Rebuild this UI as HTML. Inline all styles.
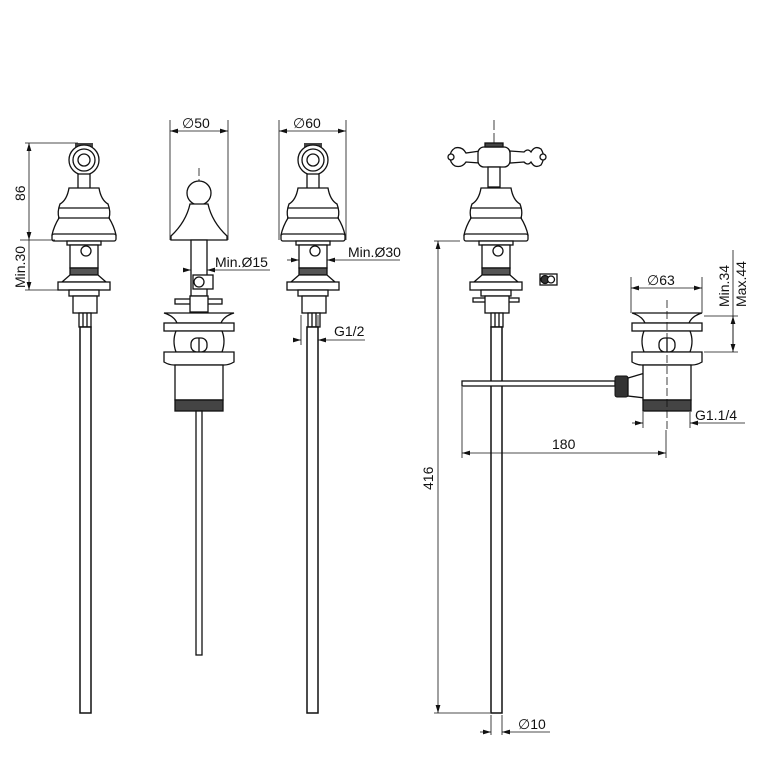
<!DOCTYPE html>
<html><head><meta charset="utf-8"><style>
html,body{margin:0;padding:0;background:#fff}
svg{display:block}
text{font-family:"Liberation Sans",sans-serif;font-size:14px;fill:#111}
</style></head><body>
<svg width="761" height="777" viewBox="0 0 761 777" xmlns="http://www.w3.org/2000/svg">
<defs>
<marker id="a" viewBox="0 0 10 10" refX="10" refY="5" markerWidth="8" markerHeight="8" orient="auto-start-reverse" markerUnits="userSpaceOnUse"><path d="M0,2 L10,5 L0,8 z" fill="#111"/></marker>
<g id="body" fill="#fff" stroke="#111" stroke-width="1.3">
  <path d="M-15,188 Q-17,200 -24,204 Q-27,212 -25,218 Q-30,226 -32,235 L32,235 Q30,226 25,218 Q27,212 24,204 Q17,200 15,188 Z"/>
  <line x1="-25" y1="208" x2="25" y2="208"/><line x1="-26" y1="218" x2="26" y2="218"/>
  <rect x="-32" y="234" width="64" height="7" rx="2"/>
  <rect x="-17" y="241" width="34" height="4"/>
  <rect x="-14" y="245" width="28" height="23"/>
  <circle cx="2" cy="251" r="5"/>
  <rect x="-14" y="268" width="28" height="7" fill="#555"/>
  <path d="M-14,275 L14,275 L22,282 L-22,282 Z"/>
  <rect x="-26" y="282" width="52" height="8"/>
  <rect x="-15" y="290" width="30" height="6"/>
  <rect x="-11" y="296" width="24" height="17"/>
  <rect x="-5" y="313" width="12" height="14"/>
  <line x1="-1" y1="313" x2="-1" y2="327"/><line x1="3" y1="313" x2="3" y2="327"/>
</g>
<g id="waste" fill="#fff" stroke="#111" stroke-width="1.3">
  <path d="M-35,313 L35,313 Q25,316 22,323 L-22,323 Q-25,316 -35,313 Z"/>
  <rect x="-35" y="323" width="70" height="8"/>
  <path d="M-23,331 L23,331 Q27,341 23,352 L-23,352 Q-27,341 -23,331 Z"/>
  <rect x="-8" y="338" width="16" height="14" rx="6"/>
  <line x1="0" y1="338" x2="0" y2="352"/>
  <path d="M-35,352 L35,352 L35,362 Q30,365 25,365 L-25,365 Q-30,365 -35,362 Z"/>
  <rect x="-24" y="365" width="48" height="35"/>
  <rect x="-24" y="400" width="48" height="11" fill="#444"/>
</g>
</defs>

<g transform="translate(84,0)">
  <rect x="-9" y="143" width="18" height="4" fill="#444"/>
  <circle cx="0" cy="160" r="15" fill="#fff" stroke="#111" stroke-width="1.3"/>
  <circle cx="0" cy="160" r="11" fill="none" stroke="#111" stroke-width="1.3"/>
  <circle cx="0" cy="160" r="6" fill="none" stroke="#111" stroke-width="1.3"/>
  <rect x="-6" y="174" width="12" height="15" fill="#fff" stroke="#111" stroke-width="1.3"/>
  <use href="#body"/>
  <rect x="-4" y="327" width="11" height="386" fill="#fff" stroke="#111" stroke-width="1.5"/>
</g>
<g stroke="#111" stroke-width="0.8" fill="none">
  <line x1="25" y1="143" x2="78" y2="143"/><line x1="20" y1="240" x2="55" y2="240"/><line x1="25" y1="290" x2="58" y2="290"/>
  <line x1="29" y1="143" x2="29" y2="240" marker-start="url(#a)" marker-end="url(#a)"/>
  <line x1="29" y1="240" x2="29" y2="290" marker-end="url(#a)"/>
</g>
<text transform="translate(25,201) rotate(-90)">86</text>
<text transform="translate(25,288) rotate(-90)">Min.30</text>

<g stroke="#111" stroke-width="0.8" fill="none">
  <line x1="170" y1="120" x2="170" y2="240"/><line x1="228" y1="120" x2="228" y2="240"/>
  <line x1="170" y1="131" x2="228" y2="131" marker-start="url(#a)" marker-end="url(#a)"/>
  <line x1="199" y1="168" x2="199" y2="300" stroke-dasharray="8,3"/>
  <line x1="183" y1="270" x2="191" y2="270" marker-end="url(#a)"/>
  <line x1="270" y1="270" x2="207" y2="270" marker-end="url(#a)"/>
</g>
<text x="182" y="128">∅50</text>
<text x="215" y="267">Min.Ø15</text>
<g fill="#fff" stroke="#111" stroke-width="1.3">
  <circle cx="199" cy="193" r="12"/>
  <path d="M190,204 Q186,222 171,236 L171,240 L227,240 L227,236 Q212,222 208,204 Z"/>
  <rect x="191" y="240" width="16" height="56"/>
  <rect x="193" y="275" width="20" height="14"/>
  <circle cx="199" cy="282" r="5"/>
  <rect x="175" y="299" width="47" height="5"/>
  <rect x="190" y="296" width="18" height="16"/>
  <use href="#waste" transform="translate(199,0)"/>
  <rect x="196" y="411" width="6" height="244"/>
</g>

<g transform="translate(313,0)">
  <rect x="-9" y="143" width="18" height="4" fill="#444"/>
  <circle cx="0" cy="160" r="15" fill="#fff" stroke="#111" stroke-width="1.3"/>
  <circle cx="0" cy="160" r="11" fill="none" stroke="#111" stroke-width="1.3"/>
  <circle cx="0" cy="160" r="6" fill="none" stroke="#111" stroke-width="1.3"/>
  <rect x="-6" y="174" width="12" height="15" fill="#fff" stroke="#111" stroke-width="1.3"/>
  <use href="#body"/>
  <rect x="-6" y="327" width="11" height="386" fill="#fff" stroke="#111" stroke-width="1.5"/>
</g>
<g stroke="#111" stroke-width="0.8" fill="none">
  <line x1="279" y1="120" x2="279" y2="240"/><line x1="346" y1="120" x2="346" y2="240"/>
  <line x1="279" y1="131" x2="346" y2="131" marker-start="url(#a)" marker-end="url(#a)"/>
  <line x1="287" y1="260" x2="299" y2="260" marker-end="url(#a)"/>
  <line x1="400" y1="260" x2="327" y2="260" marker-end="url(#a)"/>
  <line x1="301" y1="315" x2="301" y2="345"/><line x1="318" y1="315" x2="318" y2="345"/>
  <line x1="296" y1="340" x2="301" y2="340" marker-end="url(#a)"/>
  <line x1="365" y1="340" x2="318" y2="340" marker-end="url(#a)"/>
</g>
<text x="293" y="128">∅60</text>
<text x="348" y="257">Min.Ø30</text>
<text x="334" y="336">G1/2</text>

<g stroke="#111" stroke-width="0.8" fill="none">
  <line x1="494" y1="120" x2="494" y2="330" stroke-dasharray="10,3"/>
</g>
<g fill="#fff" stroke="#111" stroke-width="1.3">
  <path d="M480,151 L466,153 Q462,146 455,148 Q450,151 450,157 Q450,163 455,166 Q462,168 466,162 L480,163 Z"/>
  <circle cx="451" cy="157" r="3"/>
  <path d="M510,151 L524,152 Q528,148 531,152 Q535,145 541,149 Q546,157 541,165 Q535,169 531,162 Q528,166 524,162 L510,163 Z"/>
  <circle cx="543" cy="157" r="3"/>
  <rect x="478" y="147" width="32" height="20" rx="6"/>
  <rect x="485" y="143" width="18" height="4" fill="#444"/>
  <rect x="488" y="167" width="12" height="20"/>
  <rect x="473" y="298" width="46" height="4"/>
</g>
<use href="#body" transform="translate(496,0)"/>
<rect x="491" y="327" width="11" height="386" fill="#fff" stroke="#111" stroke-width="1.5"/>
<g fill="#fff" stroke="#111" stroke-width="1.3">
  <rect x="540" y="274" width="17" height="11"/>
  <circle cx="545" cy="279.5" r="4" fill="#333"/><circle cx="551" cy="279.5" r="3.5"/>
</g>
<g stroke="#111" stroke-width="0.8" fill="none">
  <line x1="434" y1="241" x2="460" y2="241"/><line x1="434" y1="713" x2="490" y2="713"/>
  <line x1="438" y1="241" x2="438" y2="713" marker-start="url(#a)" marker-end="url(#a)"/>
  <line x1="491" y1="715" x2="491" y2="735"/><line x1="502" y1="715" x2="502" y2="735"/>
  <line x1="480" y1="732" x2="491" y2="732" marker-end="url(#a)"/>
  <line x1="550" y1="732" x2="502" y2="732" marker-end="url(#a)"/>
</g>
<text transform="translate(433,490) rotate(-90)">416</text>
<text x="518" y="729">∅10</text>

<rect x="462" y="381" width="153" height="5" fill="#fff" stroke="#111" stroke-width="1.3"/>
<rect x="615" y="376" width="13" height="21" rx="2" fill="#333" stroke="#111"/>
<path d="M628,378 L645,373 L645,398 L628,396 Z" fill="#fff" stroke="#111" stroke-width="1.3"/>
<use href="#waste" transform="translate(667,0)"/>
<g stroke="#111" stroke-width="0.8" fill="none">
  <line x1="667" y1="300" x2="667" y2="430" stroke-dasharray="8,3"/>
  <line x1="631" y1="277" x2="631" y2="313"/><line x1="702" y1="277" x2="702" y2="313"/>
  <line x1="631" y1="288" x2="702" y2="288" marker-start="url(#a)" marker-end="url(#a)"/>
  <line x1="704" y1="316" x2="738" y2="316"/><line x1="704" y1="352" x2="738" y2="352"/>
  <line x1="733" y1="250" x2="733" y2="352"/>
  <line x1="733" y1="316" x2="733" y2="352" marker-start="url(#a)" marker-end="url(#a)"/>
  <line x1="643" y1="412" x2="643" y2="428"/><line x1="690" y1="412" x2="690" y2="428"/>
  <line x1="632" y1="423" x2="643" y2="423" marker-end="url(#a)"/>
  <line x1="745" y1="423" x2="690" y2="423" marker-end="url(#a)"/>
  <line x1="462" y1="387" x2="462" y2="458"/><line x1="666" y1="430" x2="666" y2="458"/>
  <line x1="462" y1="453" x2="666" y2="453" marker-start="url(#a)" marker-end="url(#a)"/>
</g>
<text x="647" y="285">∅63</text>
<text transform="translate(729,307) rotate(-90)">Min.34</text>
<text transform="translate(746,307) rotate(-90)">Max.44</text>
<text x="695" y="420">G1.1/4</text>
<text x="552" y="449">180</text>
</svg>
</body></html>
